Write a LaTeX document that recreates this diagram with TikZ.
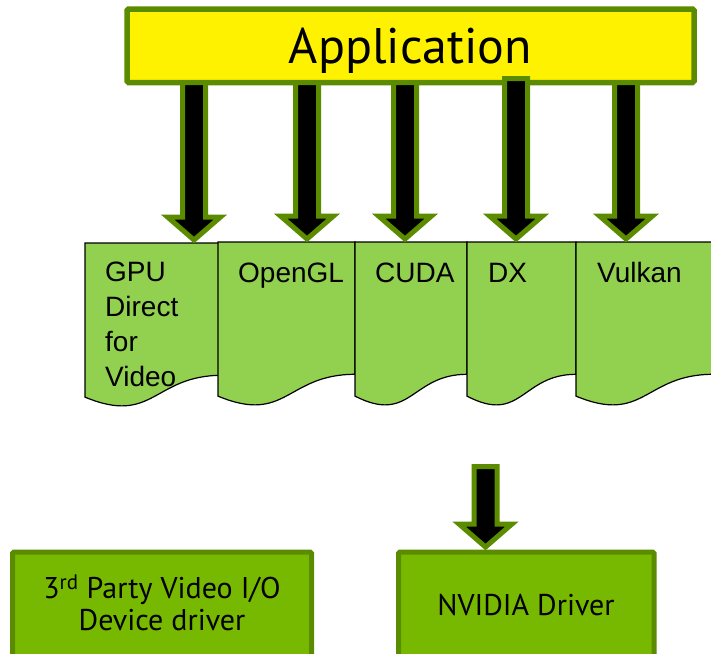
\documentclass[tikz,border=0pt]{standalone}
\usepackage{fontspec}
\setmainfont{Liberation Sans}
\newfontfamily\ptsans{PT Sans}
\usetikzlibrary{calc}

\definecolor{nvgreen}{HTML}{76B900}
\definecolor{nvdark}{HTML}{5B8C00}
\definecolor{docgreen}{HTML}{92D050}

\tikzset{
  appbox/.style={draw=nvdark, fill=yellow, line width=5.5pt, rounded corners=1.5pt, outer sep=0pt,
    text height=35pt, text depth=0pt, font=\ptsans\fontsize{50}{54}\selectfont},
  drvbox/.style={draw=nvdark, fill=nvgreen, line width=5pt, rounded corners=1.5pt, outer sep=0pt},
  drvtext/.style={inner sep=0pt, align=center, font=\ptsans\fontsize{30}{32}\selectfont},
  docsheet/.style={draw=black, fill=docgreen, line width=1.2pt},
  pagetext/.style={inner sep=0pt, align=left, font=\fontsize{28}{35}\selectfont},
  fatarrow/.style={draw=nvdark, fill=black, line width=5pt, line join=miter},
}

% document sheet with wavy bottom: left, right, top
\newcommand{\docpage}[3]{%
  \draw[docsheet] (#1,#3) -- (#2,#3) -- (#2,#3+132.3)
    .. controls ({(#1+#2)/2},#3+132.3) and ({(#1+#2)/2},#3+182.7) .. (#1,#3+154.1) -- cycle;}

% block arrow pointing down from #1 to #2
\newcommand{\fatarrow}[2]{%
  \draw[fatarrow] let \p1=(#1), \p2=(#2) in
    (\x1-11.5pt,\y1) -- (\x1+11.5pt,\y1) -- (\x1+11.5pt,\y2+23pt) -- (\x1+26.5pt,\y2+23pt)
    -- (\x1,\y2) -- (\x1-26.5pt,\y2+23pt) -- (\x1-11.5pt,\y2+23pt) -- cycle;}

\begin{document}
\begin{tikzpicture}[x=1pt, y=-1pt]
  \useasboundingbox (0,0) rectangle (711,653);

  % API sheets
  \docpage{85}{222}{243}
  \docpage{218}{355}{242}
  \docpage{355}{467}{242}
  \docpage{467}{576}{242}
  \docpage{576}{713}{242}

  \node (gpudv) [pagetext, anchor=north west] at (105,262) {GPU\\Direct\\for\\Video};
  \node (opengl) [pagetext, anchor=base west] at (238,282) {OpenGL};
  \node (cuda) [pagetext, anchor=base west] at (375,282) {CUDA};
  \node (dx) [pagetext, anchor=base west] at (488,282) {DX};
  \node (vulkan) [pagetext, anchor=base west] at (597,282) {Vulkan};

  \node (app) [appbox, minimum width=567pt, minimum height=73.5pt] at (410.5,45.75) {Application};

  % arrow tips on the sheets
  \coordinate (t1) at (194,240);
  \coordinate (t2) at (307,239);
  \coordinate (t3) at (405,239);
  \coordinate (t4) at (516,239);
  \coordinate (t5) at (626,239);

  \fatarrow{app.south -| t1}{t1}
  \fatarrow{app.south -| t2}{t2}
  \fatarrow{app.south -| t3}{t3}
  \fatarrow{$(app.south -| t4)+(0,-4)$}{t4}
  \fatarrow{app.south -| t5}{t5}

  % drivers
  \node (party) [drvbox, anchor=north west, minimum width=299pt, minimum height=120pt] at (12.5,552) {};
  \node (drv) [drvbox, anchor=north west, minimum width=255.5pt, minimum height=120pt] at (398.5,552) {};
  \node (partytext) [drvtext] at (162,603) {3\textsuperscript{rd} Party Video I/O\\Device driver};
  \node (drvtext) [drvtext] at (526,605) {NVIDIA Driver};

  \coordinate (s6) at (485.5,466.5);
  \fatarrow{s6}{$(drv.north -| s6)+(0,-5)$}
\end{tikzpicture}
\end{document}
